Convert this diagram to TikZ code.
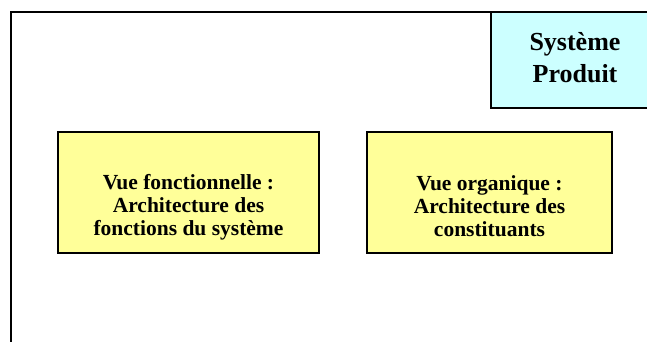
\documentclass[tikz,border=0pt]{standalone}
\usepackage{fontspec}
\setmainfont{Liberation Serif}
\definecolor{vuejaune}{RGB}{255,255,153}
\definecolor{produitcyan}{RGB}{204,255,255}
\tikzset{
  vuebox/.style={draw=black, line width=1.8pt, fill=vuejaune, minimum width=261pt, minimum height=121pt, inner sep=0pt},
  vuetext/.style={font=\fontsize{21.5}{23}\selectfont\bfseries, align=center, inner sep=0pt},
  produitbox/.style={draw=black, line width=1.8pt, fill=produitcyan, minimum width=168pt, minimum height=96pt, inner sep=0pt},
  produittext/.style={font=\fontsize{26}{32}\selectfont\bfseries, align=center, inner sep=0pt}
}
\begin{document}
\begin{tikzpicture}[x=1pt, y=1pt]
\clip (0,0) rectangle (647,342);
\fill[white] (0,0) rectangle (647,342);
% cadre du systeme
\coordinate (cadreHaut) at (11,330);
\draw[line width=2pt] (11,-10) -- (cadreHaut) -- (660,330);
\node[produitbox] (produit) at (575,282) {};
\node[produittext] (produitText) at ([yshift=2pt]produit.center) {Système\\Produit};
% les deux vues
\node[vuebox] (fonc) at (188.5,149.5) {};
\node[vuetext] (foncText) at ([yshift=-15pt]fonc.center) {Vue fonctionnelle :\\Architecture des\\fonctions du système};
\node[vuebox, minimum width=245pt] (orga) at (489.5,149.5) {};
\node[vuetext] (orgaText) at ([yshift=-14pt]orga.center) {Vue organique :\\Architecture des\\constituants};
\end{tikzpicture}
\end{document}
